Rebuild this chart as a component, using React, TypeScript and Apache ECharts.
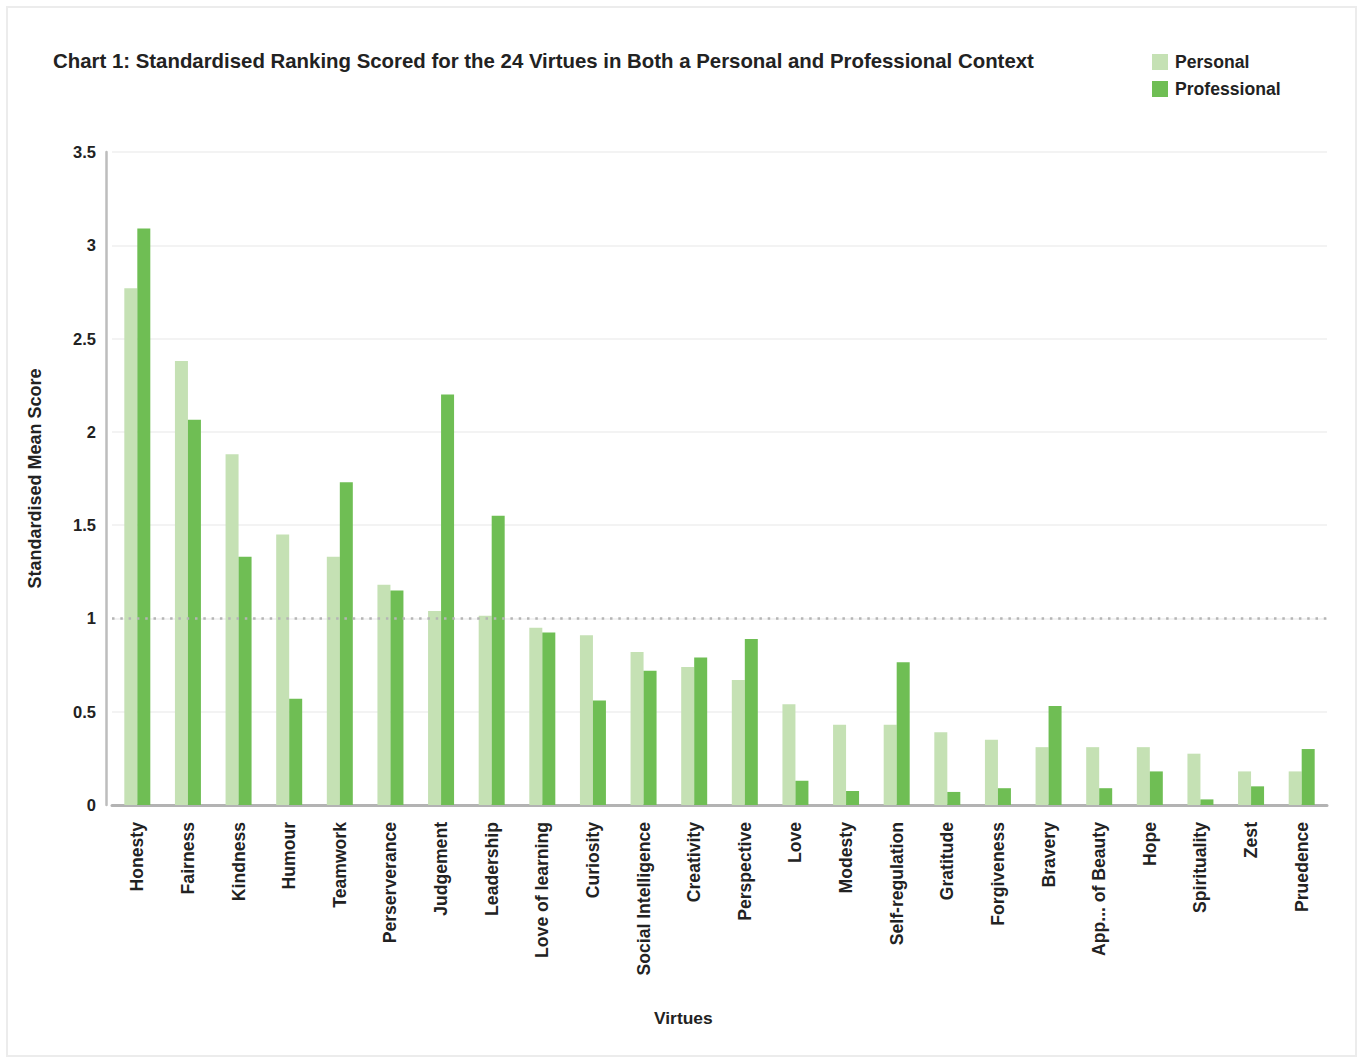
import React, { useEffect, useRef } from "react";
import * as echarts from "echarts";

const categories = [
  "Honesty", "Fairness", "Kindness", "Humour", "Teamwork", "Perserverance",
  "Judgement", "Leadership", "Love of learning", "Curiosity", "Social Intelligence",
  "Creativity", "Perspective", "Love", "Modesty", "Self-regulation", "Gratitude",
  "Forgiveness", "Bravery", "App... of Beauty", "Hope", "Spirituality", "Zest", "Pruedence",
];

const personal = [
  2.77, 2.38, 1.88, 1.45, 1.33, 1.18, 1.04, 1.015, 0.95, 0.91, 0.82,
  0.74, 0.67, 0.54, 0.43, 0.43, 0.39, 0.35, 0.31, 0.31, 0.31, 0.275, 0.18, 0.18,
];

const professional = [
  3.09, 2.065, 1.33, 0.57, 1.73, 1.15, 2.2, 1.55, 0.925, 0.56, 0.72,
  0.79, 0.89, 0.13, 0.075, 0.765, 0.07, 0.09, 0.53, 0.09, 0.18, 0.03, 0.1, 0.3,
];

const yTicks = { min: 0, max: 3.5, interval: 0.5 };
const referenceLine = 1;

const TEXT = "#222222";
const FONT = "'Liberation Sans', Arial, Helvetica, sans-serif";

export default function App() {
  const ref = useRef<HTMLDivElement>(null);

  useEffect(() => {
    if (!ref.current) return;
    const chart = echarts.init(ref.current, null, { renderer: "svg" });
    chart.setOption({
      animation: false,
      backgroundColor: "#ffffff",
      textStyle: { fontFamily: FONT },
      title: {
        text: "Chart 1: Standardised Ranking Scored for the 24 Virtues in Both a Personal and Professional Context",
        left: 48,
        top: 46,
        textStyle: { fontFamily: FONT, fontSize: 20.4, fontWeight: "bold", color: TEXT },
      },
      legend: {
        orient: "vertical",
        left: 1147,
        top: 48,
        itemWidth: 16,
        itemHeight: 16,
        itemGap: 9,
        icon: "rect",
        textStyle: { fontFamily: FONT, fontSize: 17.6, fontWeight: "bold", color: TEXT, padding: [0, 0, 0, 2] },
        data: ["Personal", "Professional"],
      },
      graphic: [
        {
          type: "rect",
          shape: { x: 7, y: 7, width: 1349, height: 1049 },
          style: { fill: "none", stroke: "#ececec", lineWidth: 2 },
          silent: true,
        },
        {
          type: "text",
          left: 654,
          top: 1009,
          style: { text: "Virtues", fontFamily: FONT, fontSize: 17.4, fontWeight: "bold", fill: TEXT },
        },
      ],
      grid: { left: 112, right: 36, top: 152, bottom: 259, containLabel: false },
      xAxis: {
        type: "category",
        data: categories,
        axisLine: { show: true, lineStyle: { color: "#b3b3b3", width: 3 } },
        axisTick: { show: false },
        axisLabel: {
          rotate: 90,
          interval: 0,
          margin: 17,
          fontFamily: FONT,
          fontSize: 17.6,
          fontWeight: "bold",
          color: TEXT,
        },
      },
      yAxis: {
        type: "value",
        min: yTicks.min,
        max: yTicks.max,
        interval: yTicks.interval,
        offset: 6,
        name: "Standardised Mean Score",
        nameLocation: "middle",
        nameGap: 62,
        nameTextStyle: { fontFamily: FONT, fontSize: 18, fontWeight: "bold", color: TEXT },
        axisLine: { show: true, lineStyle: { color: "#bdbdbd", width: 2.5 } },
        axisTick: { show: false },
        axisLabel: { margin: 10, fontFamily: FONT, fontSize: 16.5, fontWeight: "bold", color: TEXT },
        splitLine: { show: true, lineStyle: { color: "#f3f3f3", width: 2 } },
      },
      series: [
        {
          name: "Personal",
          type: "bar",
          data: personal,
          barWidth: 13,
          barGap: "0%",
          itemStyle: { color: "#c5e1b4" },
          markLine: {
            silent: true,
            symbol: ["none", "none"],
            label: { show: false },
            lineStyle: { color: "#b5b5b5", type: [2.5, 5.8], width: 2.5 },
            data: [{ yAxis: referenceLine }],
          },
        },
        {
          name: "Professional",
          type: "bar",
          data: professional,
          barWidth: 13,
          barGap: "0%",
          itemStyle: { color: "#6fbe54" },
        },
      ],
    });
    return () => chart.dispose();
  }, []);

  return (
    <div style={{ position: "absolute", left: 0, top: 0, width: 1363, height: 1064, background: "#fff" }}>
      <div ref={ref} style={{ width: 1363, height: 1064 }} />
    </div>
  );
}
